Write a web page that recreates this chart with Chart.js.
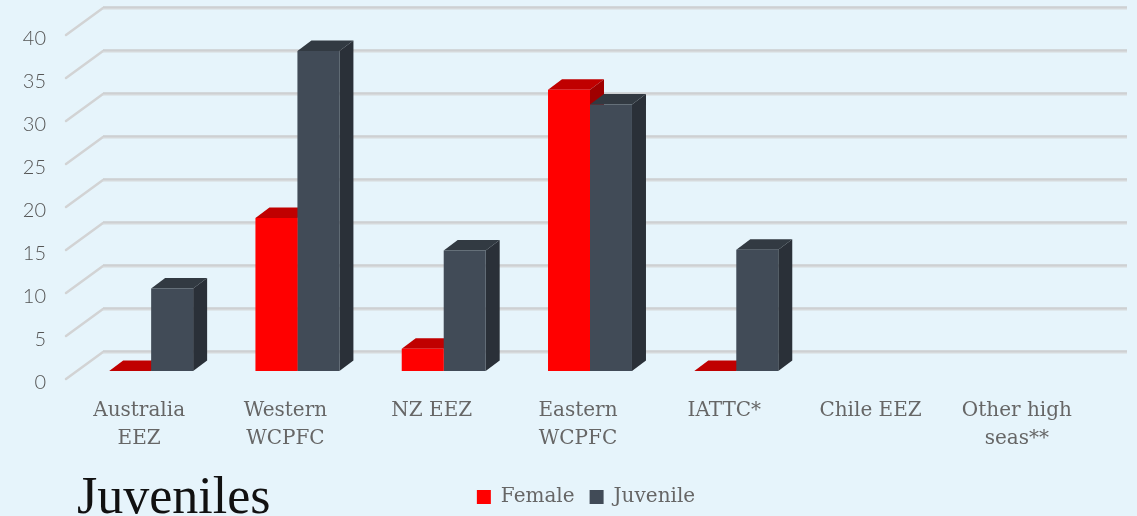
<!DOCTYPE html>
<html>
<head>
<meta charset="utf-8">
<title>Juveniles</title>
<script src="https://cdn.jsdelivr.net/npm/chart.js@4/dist/chart.umd.min.js"></script>
<style>
  html, body { margin: 0; padding: 0; background: #e6f4fb; overflow: hidden; }
  #wrap { width: 1137px; height: 516px; }
</style>
</head>
<body>
<div id="wrap"><canvas id="chart"></canvas></div>
<script>
const categories = [['Australia', 'EEZ'], ['Western', 'WCPFC'], 'NZ EEZ', ['Eastern', 'WCPFC'], 'IATTC*', 'Chile EEZ', ['Other high', 'seas**']];
const female = [0, 17.8, 2.6, 32.7, 0, null, null];
const juvenile = [9.6, 37.2, 14, 31, 14.1, null, null];
const yTicks = [0, 5, 10, 15, 20, 25, 30, 35, 40];

// fake 3D: how far the bars and the wall sit from the drawing plane
const barDepth = { x: 14, y: -10.5 };
const floorFront = { x: -12, y: 8 };
const floorBack = { x: 25, y: -19 };
const faceColors = [
    { top: '#c00000', side: '#a00000' },
    { top: '#323a42', side: '#2a3038' }
];

function fillPoly(ctx, color, pts) {
    ctx.fillStyle = color;
    ctx.beginPath();
    pts.forEach((p, i) => i ? ctx.lineTo(p[0], p[1]) : ctx.moveTo(p[0], p[1]));
    ctx.closePath();
    ctx.fill();
}

const depthPlugin = {
    id: 'depth',
    afterLayout(chart) {
        // the reference puts title and legend side by side under the axis
        chart.titleBlock.left += 77;
        chart.titleBlock.right += 77;
        chart.titleBlock.top = 487;
        chart.titleBlock.bottom = 511;
        chart.legend.left += 35;
        chart.legend.right += 35;
        chart.legend.top = 472;
        chart.legend.bottom = 516;

        // layout keeps extra room above the axis, pin the plot top
        const y = chart.scales.y;
        y.height = y.bottom - 27;
        y.top = 27;
        y.configure();
        chart.chartArea.top = 27;
        chart.chartArea.height = y.height;
    },
    beforeDatasetsDraw(chart) {
        const ctx = chart.ctx;
        const { left, right } = chart.chartArea;
        const y = chart.scales.y;

        // grid: wall line plus the diagonal running to the front of the floor
        yTicks.forEach(v => {
            const py = y.getPixelForValue(v);
            ctx.lineCap = 'round';
            ctx.strokeStyle = '#d2d3d4';
            ctx.lineWidth = 2.5;
            ctx.beginPath();
            ctx.moveTo(left + floorFront.x, py + floorFront.y);
            ctx.lineTo(left + floorBack.x, py + floorBack.y);
            ctx.stroke();
            ctx.lineCap = 'butt';
            ctx.strokeStyle = '#d6d9db';
            ctx.lineWidth = 3;
            ctx.beginPath();
            ctx.moveTo(left + floorBack.x, py + floorBack.y);
            ctx.lineTo(right + floorBack.x, py + floorBack.y);
            ctx.stroke();
            ctx.strokeStyle = '#c6c8c9';
            ctx.lineWidth = 1;
            ctx.beginPath();
            ctx.moveTo(left + floorBack.x, py + floorBack.y - 1);
            ctx.lineTo(right + floorBack.x, py + floorBack.y - 1);
            ctx.stroke();
        });

        // tops and sides of the bars, the fronts come from the library
        chart.data.datasets.forEach((ds, i) => {
            chart.getDatasetMeta(i).data.forEach((bar, j) => {
                if (ds.data[j] === null) return;
                const x0 = bar.x - bar.width / 2;
                const x1 = bar.x + bar.width / 2;
                const dx = barDepth.x, dy = barDepth.y;
                fillPoly(ctx, faceColors[i].top, [[x0, bar.y], [x1, bar.y], [x1 + dx, bar.y + dy], [x0 + dx, bar.y + dy]]);
                if (bar.base - bar.y > 0.5) {
                    fillPoly(ctx, faceColors[i].side, [[x1, bar.y], [x1 + dx, bar.y + dy], [x1 + dx, bar.base + dy], [x1, bar.base]]);
                }
            });
        });
    }
};

new Chart(document.getElementById('chart'), {
    type: 'bar',
    data: {
        labels: categories,
        datasets: [
            { label: 'Female', data: female, backgroundColor: '#ff0000' },
            { label: 'Juvenile', data: juvenile, backgroundColor: '#414b57' }
        ]
    },
    options: {
        responsive: true,
        maintainAspectRatio: false,
        animation: false,
        layout: { autoPadding: false, padding: { top: 19, right: 35, left: 0, bottom: 0 } },
        datasets: { bar: { barPercentage: 1, categoryPercentage: 0.574 } },
        plugins: {
            tooltip: { enabled: false },
            title: {
                display: true,
                text: 'Juveniles',
                position: 'bottom',
                align: 'start',
                color: '#111111',
                font: { family: 'Liberation Serif', size: 52, weight: 'normal', lineHeight: 0.46 },
                padding: 0
            },
            legend: {
                position: 'bottom',
                labels: {
                    color: '#666666',
                    boxWidth: 14,
                    boxHeight: 14,
                    padding: 15,
                    font: { family: 'DejaVu Serif', size: 20 }
                }
            }
        },
        scales: {
            x: {
                grid: { display: false },
                border: { display: false },
                afterFit(scale) {
                    const c = scale.chart;
                    scale.height = 145 - c.legend.height - c.titleBlock.height;
                },
                ticks: {
                    color: '#666666',
                    font: { family: 'DejaVu Serif', size: 20, lineHeight: 1.4 },
                    autoSkip: false,
                    maxRotation: 0,
                    padding: 18,
                    labelOffset: -12
                }
            },
            y: {
                min: 0,
                max: 40,
                afterFit(scale) { scale.width = 78; },
                afterBuildTicks(scale) { scale.ticks = yTicks.map(v => ({ value: v })); },
                grid: { display: false },
                border: { display: false },
                ticks: {
                    color: '#555555',
                    font: { family: 'Lato', size: 20, weight: '300' },
                    padding: 24,
                    labelOffset: 12
                }
            }
        }
    },
    plugins: [depthPlugin]
});
</script>
</body>
</html>
